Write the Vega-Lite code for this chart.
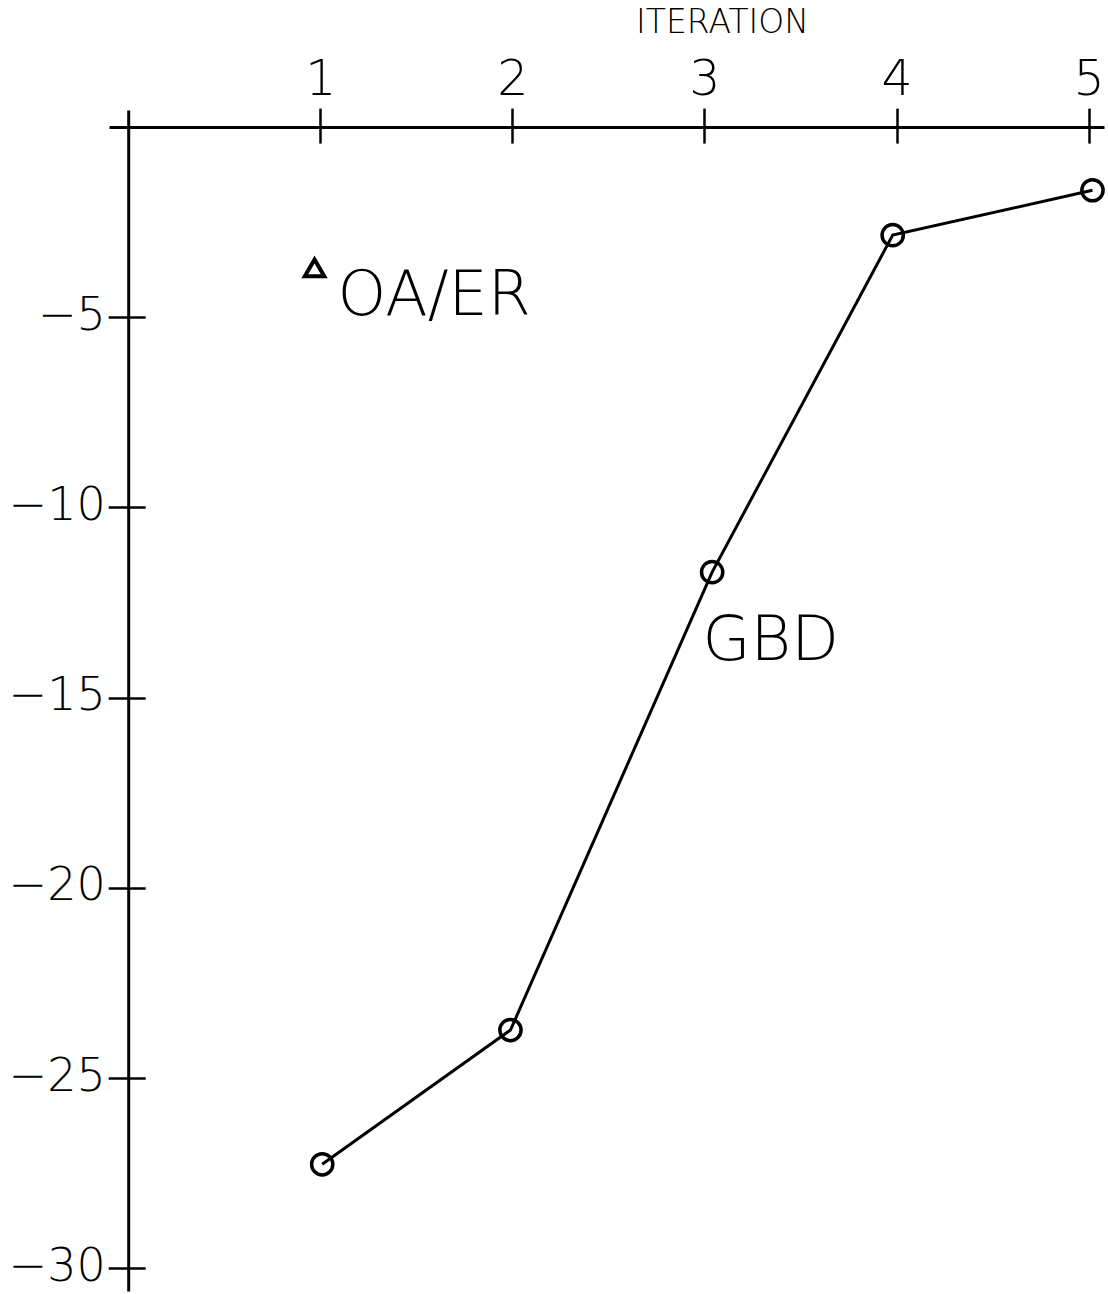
{
  "$schema": "https://vega.github.io/schema/vega-lite/v6.json",
  "width": 995,
  "height": 1181,
  "autosize": {"type": "none"},
  "padding": {"left": 109, "top": 110, "right": 4, "bottom": 3},
  "background": "white",
  "config": {"view": {"stroke": null}, "font": "DejaVu Sans"},
  "datasets": {
    "gbd": [
      {"iteration": 1.01, "value": -27.27},
      {"iteration": 1.99, "value": -23.74},
      {"iteration": 3.04, "value": -11.70},
      {"iteration": 3.98, "value": -2.84},
      {"iteration": 5.02, "value": -1.66}
    ],
    "oaer": [
      {"iteration": 0.97, "value": -3.7}
    ],
    "labels": [
      {"iteration": 2.99, "value": -14.02, "label": "GBD"},
      {"iteration": 1.09, "value": -4.94, "label": "OA/ER"}
    ]
  },
  "layer": [
    {
      "data": {"name": "gbd"},
      "mark": {"type": "line", "stroke": "black", "strokeWidth": 3},
      "encoding": {
        "x": {
          "field": "iteration", "type": "quantitative",
          "scale": {"domain": [-0.1, 5.08], "nice": false, "zero": false},
          "axis": {
            "orient": "top", "offset": -17.1, "values": [1, 2, 3, 4, 5],
            "title": "ITERATION", "titleX": 613, "titleY": -95,
            "titleAlign": "center", "titleBaseline": "alphabetic", "titleAngle": 0,
            "titleFontSize": 33, "titleFontWeight": 200, "titleColor": "black",
            "domainColor": "black", "domainWidth": 3,
            "tickColor": "black", "tickWidth": 2.5, "tickSize": 19,
            "labelFontSize": 49, "labelFontWeight": 200, "labelColor": "black",
            "labelPadding": 14, "labelBaseline": "alphabetic", "labelFlush": false, "labelOverlap": false, "labelBound": false,
            "grid": false
          }
        },
        "y": {
          "field": "value", "type": "quantitative",
          "scale": {"domain": [-30.6, 0.45], "nice": false, "zero": false},
          "axis": {
            "orient": "left", "offset": -19.2, "values": [-5, -10, -15, -20, -25, -30],
            "labelExpr": "'\u2212' + abs(datum.value)",
            "title": null,
            "domainColor": "black", "domainWidth": 3,
            "tickColor": "black", "tickWidth": 2.5, "tickSize": 20,
            "labelFontSize": 46, "labelFontWeight": 200, "labelColor": "black",
            "labelPadding": 3, "labelBaseline": "middle", "labelOffset": -2, "labelFlush": false, "labelOverlap": false, "labelBound": false,
            "grid": false
          }
        }
      }
    },
    {
      "data": {"name": "gbd"},
      "mark": {"type": "point", "shape": "circle", "filled": false, "size": 450, "stroke": "black", "strokeWidth": 3.5, "opacity": 1},
      "encoding": {
        "x": {
          "field": "iteration", "type": "quantitative",
          "axis": {
            "orient": "bottom", "offset": -1163.9, "values": [1, 2, 3, 4, 5],
            "labels": false, "domain": false, "title": null, "grid": false,
            "tickColor": "black", "tickWidth": 2.5, "tickSize": 16
          }
        },
        "y": {
          "field": "value", "type": "quantitative",
          "axis": {
            "orient": "right", "offset": -975.8, "values": [-5, -10, -15, -20, -25, -30],
            "labels": false, "domain": false, "title": null, "grid": false,
            "tickColor": "black", "tickWidth": 2.5, "tickSize": 17
          }
        }
      }
    },
    {
      "data": {"name": "oaer"},
      "mark": {"type": "point", "shape": "triangle-up", "filled": false, "size": 380, "stroke": "black", "strokeWidth": 4, "opacity": 1},
      "encoding": {
        "x": {"field": "iteration", "type": "quantitative", "axis": null},
        "y": {"field": "value", "type": "quantitative", "axis": null}
      }
    },
    {
      "data": {"name": "labels"},
      "mark": {"type": "text", "align": "left", "baseline": "alphabetic", "fontSize": 62, "fontWeight": 200, "color": "black"},
      "encoding": {
        "x": {"field": "iteration", "type": "quantitative", "axis": null},
        "y": {"field": "value", "type": "quantitative", "axis": null},
        "text": {"field": "label", "type": "nominal"}
      }
    }
  ],
  "resolve": {"axis": {"x": "independent", "y": "independent"}}
}
